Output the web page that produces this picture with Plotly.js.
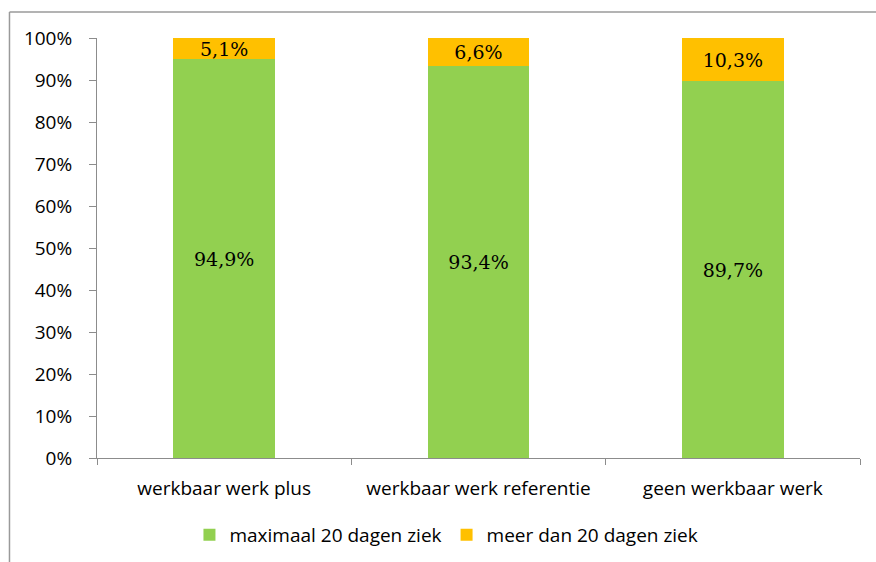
<!DOCTYPE html>
<html>
<head>
<meta charset="utf-8">
<script src="https://cdn.plot.ly/plotly-3.0.1.min.js"></script>
<style>html,body{margin:0;padding:0;background:#fff;}#chart{width:876px;height:562px;}</style>
</head>
<body>
<div id="chart"></div>
<script>
var categories = ["werkbaar werk plus", "werkbaar werk referentie", "geen werkbaar werk"];
var maxDays = [94.9, 93.4, 89.7];
var moreDays = [5.1, 6.6, 10.3];
var seriesNames = ["maximaal 20 dagen ziek", "meer dan 20 dagen ziek"];
var yTickVals = [0, 10, 20, 30, 40, 50, 60, 70, 80, 90, 100];

function fmt(v) { return v.toFixed(1).replace(".", ",") + "%"; }

var labelFont = {family: "DejaVu Serif, serif", size: 19, color: "#000"};
var sansFont = {family: "Open Sans, sans-serif", size: 19, color: "#000"};

var traces = [
  {
    type: "bar", name: seriesNames[0], x: categories, y: maxDays,
    marker: {color: "#92D050"},
    text: maxDays.map(fmt), textposition: "inside", insidetextanchor: "middle",
    constraintext: "none", textfont: labelFont, hoverinfo: "none"
  },
  {
    type: "bar", name: seriesNames[1], x: categories, y: moreDays,
    marker: {color: "#FFC000"},
    text: moreDays.map(fmt), textposition: "inside", insidetextanchor: "middle",
    constraintext: "none", textfont: labelFont, hoverinfo: "none"
  }
];

var axisColor = "#8c8c8c";
var layout = {
  width: 876, height: 562,
  margin: {l: 97, r: 16, t: 38, b: 104, pad: 0, autoexpand: false},
  paper_bgcolor: "#fff", plot_bgcolor: "#fff",
  barmode: "stack", bargap: 0.6,
  showlegend: true,
  font: sansFont,
  xaxis: {
    type: "category", showgrid: false, zeroline: false,
    showline: true, linecolor: axisColor, linewidth: 1,
    ticks: "outside", tickson: "boundaries", ticklen: 6, tickcolor: axisColor,
    ticklabelstandoff: 13, automargin: false,
    tickfont: sansFont
  },
  yaxis: {
    range: [0, 100], showgrid: false, zeroline: false,
    showline: true, linecolor: axisColor, linewidth: 1,
    ticks: "outside", ticklen: 7, tickcolor: axisColor,
    tickvals: yTickVals, ticktext: yTickVals.map(function(v){return v + "%";}),
    ticklabelstandoff: 13, automargin: false,
    tickfont: sansFont
  },
  legend: {
    orientation: "h", x: 0.458, xanchor: "center", y: -0.183, yanchor: "middle",
    font: sansFont,
    traceorder: "normal", itemwidth: 30
  },
  shapes: [
    {type: "line", xref: "paper", yref: "paper", x0: -0.1147, x1: -0.1147, y0: 1.062, y1: -1,
     line: {color: "#9a9a9a", width: 1.5}},
    {type: "line", xref: "paper", yref: "paper", x0: -0.1147, x1: 2, y0: 1.062, y1: 1.062,
     line: {color: "#9a9a9a", width: 1.5}}
  ]
};

Plotly.newPlot("chart", traces, layout, {staticPlot: true, displayModeBar: false});
</script>
</body>
</html>
